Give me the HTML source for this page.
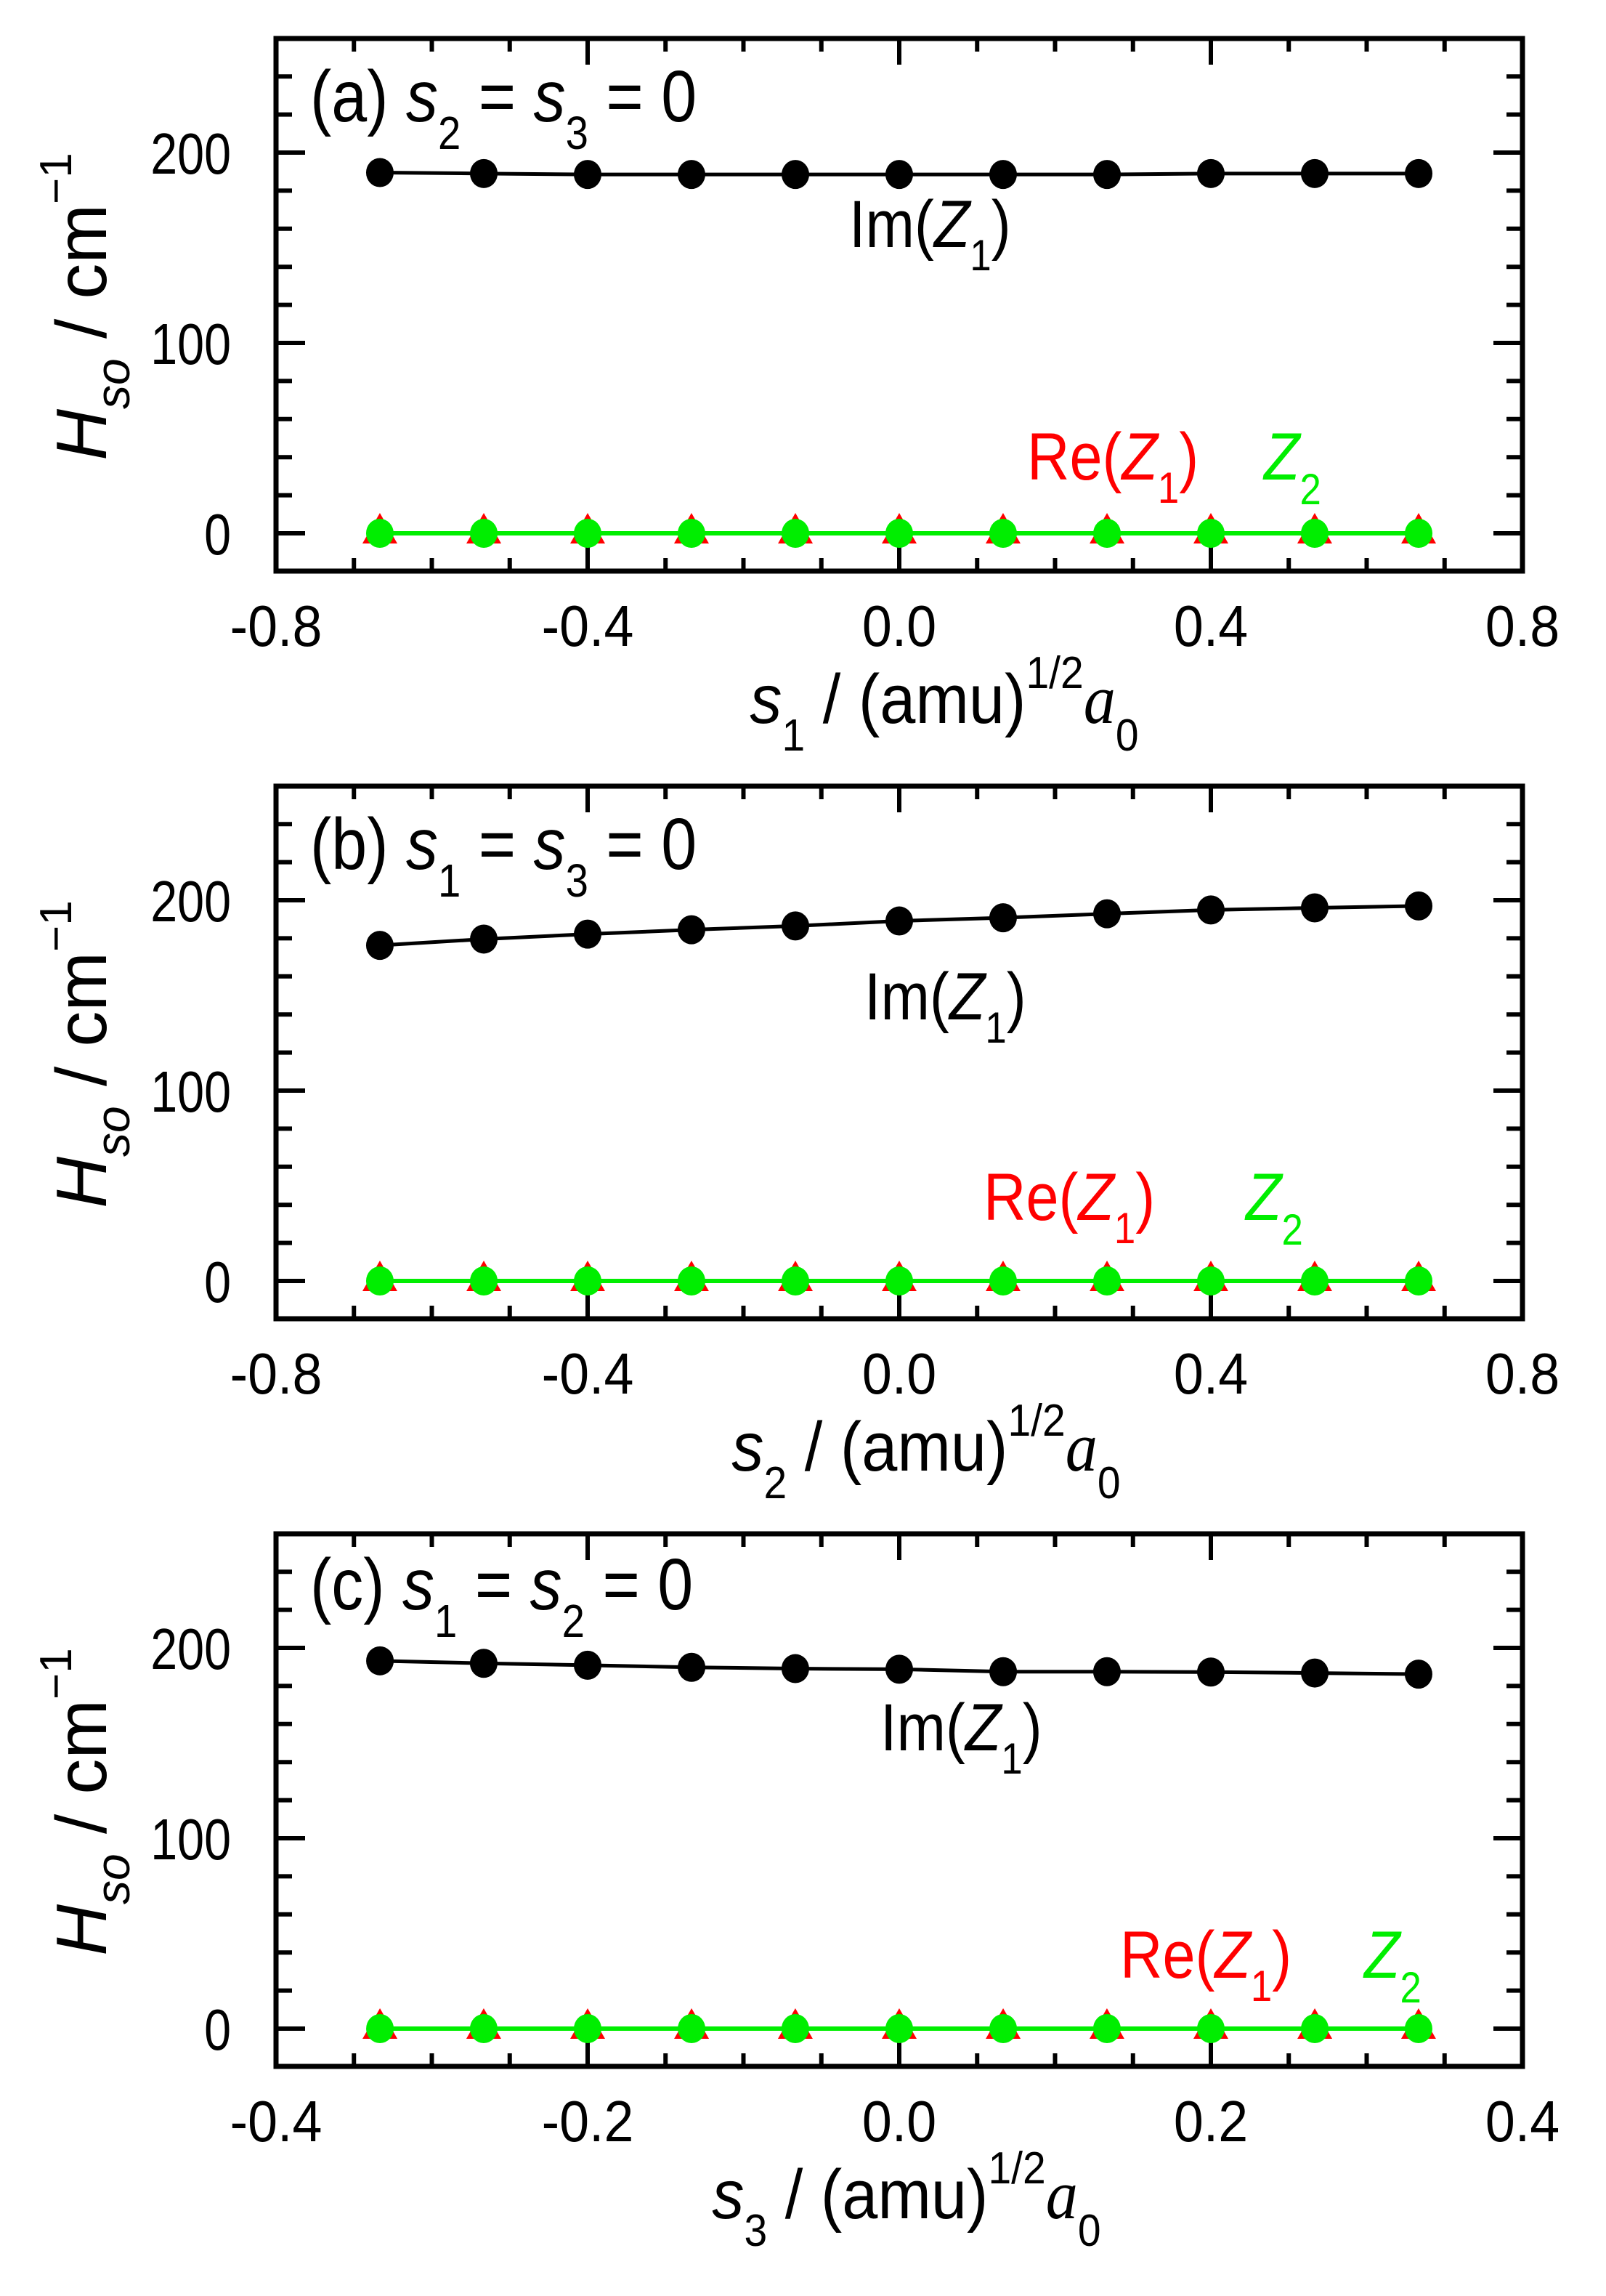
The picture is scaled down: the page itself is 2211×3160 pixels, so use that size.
<!DOCTYPE html>
<html><head><meta charset="utf-8">
<style>
html,body{margin:0;padding:0;background:#fff;}
svg{display:block;}
text{font-family:"Liberation Sans",sans-serif;}
</style></head>
<body>
<svg id="fig" width="2211" height="3160" viewBox="0 0 2211 3160" xmlns="http://www.w3.org/2000/svg">
<rect width="2211" height="3160" fill="#fff"/>
</svg>
<script>
// ---- data ----
const xA = [-0.6667,-0.5333,-0.4,-0.2667,-0.1333,0,0.1333,0.2667,0.4,0.5333,0.6667];
const xC = [-0.3333,-0.2667,-0.2,-0.1333,-0.0667,0,0.0667,0.1333,0.2,0.2667,0.3333];
const imA = [189.5,189,188.5,188.5,188.5,188.5,188.5,188.5,189,189,189];
const imB = [176.3,179.6,182.2,184.5,186.5,189.1,190.8,192.9,194.9,196,197];
const imC = [193.2,191.9,190.9,189.8,189.1,188.8,187.5,187.5,187.3,186.8,186.2];
const reA = [0,0,0,0,0,0,0,0,0,0,0];
const reB = [0,0,0,0,0,0,0,0,0,0,0];
const reC = [0,0,0,0,0,0,0,0,0,0,0];
const z2A = [0,0,0,0,0,0,0,0,0,0,0];
const z2B = [0,0,0,0,0,0,0,0,0,0,0];
const z2C = [0,0,0,0,0,0,0,0,0,0,0];
const xTicksAB = ["-0.8","-0.4","0.0","0.4","0.8"];
const xTicksC = ["-0.4","-0.2","0.0","0.2","0.4"];
const yTicks = ["0","100","200"];

const NS="http://www.w3.org/2000/svg";
const svg=document.getElementById('fig');
function mk(tag,attrs,parent){const e=document.createElementNS(NS,tag);for(const k in attrs)e.setAttribute(k,attrs[k]);(parent||svg).appendChild(e);return e;}
function tsp(parent,txt,opts){const t=document.createElementNS(NS,'tspan');if(opts)for(const k in opts)t.setAttribute(k,opts[k]);t.textContent=txt;parent.appendChild(t);return t;}

const L=380,R=2096;
function panel(idx,off,xs,im,re,z2,xmin,xmax,xticks,xmajor,xminor,letter,cond,xsub,labPos){
  const g=mk('g',{});
  
  
  const top=53+off,bot=786+off,zero=734+off;
  const X=v=>L+(v-xmin)/(xmax-xmin)*(R-L);
  const Y=v=>zero-v*2.62;
  const tk=mk('g',{stroke:'#000','stroke-width':6},g);
  
  
  for(let v=-20;v<=260;v+=20){const y=Y(v);const len=(v%100===0)?40:22;
    mk('line',{x1:L,y1:y,x2:L+len,y2:y},tk);mk('line',{x1:R,y1:y,x2:R-len,y2:y},tk);}
  const n=Math.round((xmax-xmin)/xminor);
  for(let i=0;i<=n;i++){const v=xmin+i*xminor;const x=X(v);
    const maj=Math.abs(Math.round(v/xmajor)*xmajor-v)<1e-6;const len=maj?36:18;
    mk('line',{x1:x,y1:bot,x2:x,y2:bot-len},tk);mk('line',{x1:x,y1:top,x2:x,y2:top+len},tk);}
  const fr=mk('rect',{x:L,y:top,width:R-L,height:bot-top,fill:'none',stroke:'#000','stroke-width':7},g);
  
  
  yTicks.forEach(s=>{const t=mk('text',{x:0,y:0,'font-size':80,'text-anchor':'end',transform:`translate(318,${Y(+s)+29}) scale(0.83,1)`},g);t.textContent=s;
    
    });
  xticks.forEach(s=>{const t=mk('text',{x:0,y:0,'font-size':80,'text-anchor':'middle',transform:`translate(${X(+s)},${889+off}) scale(0.92,1)`},g);t.textContent=s;
    
    });
  const pts=(arr)=>arr.map((v,i)=>X(xs[i])+','+Y(v)).join(' ');
  const imL=mk('polyline',{points:pts(im),fill:'none',stroke:'#000','stroke-width':5},g);
  
  
  im.forEach((v,i)=>{const c=mk('ellipse',{cx:X(xs[i]),cy:Y(v),rx:19,ry:20,fill:'#000'},g);
    
    });
  const reL=mk('polyline',{points:pts(re),fill:'none',stroke:'#f00','stroke-width':4},g);
  
  
  re.forEach((v,i)=>{const x=X(xs[i]),y=Y(v);
    const p=mk('polygon',{points:`${x},${y-28} ${x+24},${y+14} ${x-24},${y+14}`,fill:'#f00'},g);
    
    });
  const zL=mk('polyline',{points:pts(z2),fill:'none',stroke:'#00ee00','stroke-width':6},g);
  
  
  z2.forEach((v,i)=>{const c=mk('ellipse',{cx:X(xs[i]),cy:Y(v),rx:19,ry:20,fill:'#00ee00'},g);
    
    });
  const pl=mk('text',{x:0,y:0,'font-size':100,transform:`translate(427,${labPos[0]}) scale(0.88,1)`},g);
  
  
  tsp(pl,'('+letter+') ');tsp(pl,'s',{'font-style':'italic'});tsp(pl,cond[0],{'font-size':64,dy:38});
  tsp(pl,' = ',{dy:-38});tsp(pl,'s',{'font-style':'italic'});tsp(pl,cond[1],{'font-size':64,dy:38});tsp(pl,' = 0',{dy:-38});
  const il=mk('text',{x:0,y:0,'font-size':92,transform:`translate(${labPos[1]},${labPos[2]}) scale(0.88,1)`},g);
  
  
  tsp(il,'Im(');tsp(il,'Z',{'font-style':'italic'});tsp(il,'1',{'font-size':60,dy:32});tsp(il,')',{dy:-32});
  const rl=mk('text',{x:0,y:0,'font-size':92,fill:'#f00',transform:`translate(${labPos[3]},${labPos[4]}) scale(0.88,1)`},g);
  
  
  tsp(rl,'Re(');tsp(rl,'Z',{'font-style':'italic'});tsp(rl,'1',{'font-size':60,dy:32});tsp(rl,')',{dy:-32});
  const zl=mk('text',{x:0,y:0,'font-size':92,fill:'#00ee00',transform:`translate(${labPos[5]},${labPos[4]}) scale(0.88,1)`},g);
  
  
  tsp(zl,'Z',{'font-style':'italic'});tsp(zl,'2',{'font-size':60,dy:34});
  const xt=mk('text',{x:0,y:0,'font-size':96,'text-anchor':'middle',transform:`translate(${labPos[6]},${995+off}) scale(0.92,1)`},g);
  
  
  tsp(xt,'s',{'font-style':'italic'});tsp(xt,xsub,{'font-size':62,dy:38});tsp(xt,' / (amu)',{dy:-38});
  tsp(xt,'1/2',{'font-size':62,dy:-48});
  tsp(xt,'a',{'font-style':'italic','font-family':'Liberation Serif, serif',dy:48});tsp(xt,'0',{'font-size':62,dy:38});
  const yt=mk('text',{x:0,y:0,'font-size':98,'text-anchor':'middle',transform:`translate(146,${422+off}) rotate(-90)`},g);
  
  
  tsp(yt,'H',{'font-style':'italic'});tsp(yt,'so',{'font-style':'italic','font-size':66,dy:32});
  tsp(yt,' / cm',{dy:-32});tsp(yt,'\u22121',{'font-size':62,dy:-48});
}
panel(0,0,xA,imA,reA,z2A,-0.8,0.8,xTicksAB,0.4,0.1,'a',['2','3'],'1',[167,1169,340,1414,660,1740,1300]);
panel(1,1029,xA,imB,reB,z2B,-0.8,0.8,xTicksAB,0.4,0.1,'b',['1','3'],'2',[1196,1190,1403,1354,1679,1715,1275]);
panel(2,2058,xC,imC,reC,z2C,-0.4,0.4,xTicksC,0.2,0.05,'c',['1','2'],'3',[2215,1212,2409,1542,2722,1878,1248]);
</script>
</body></html>
